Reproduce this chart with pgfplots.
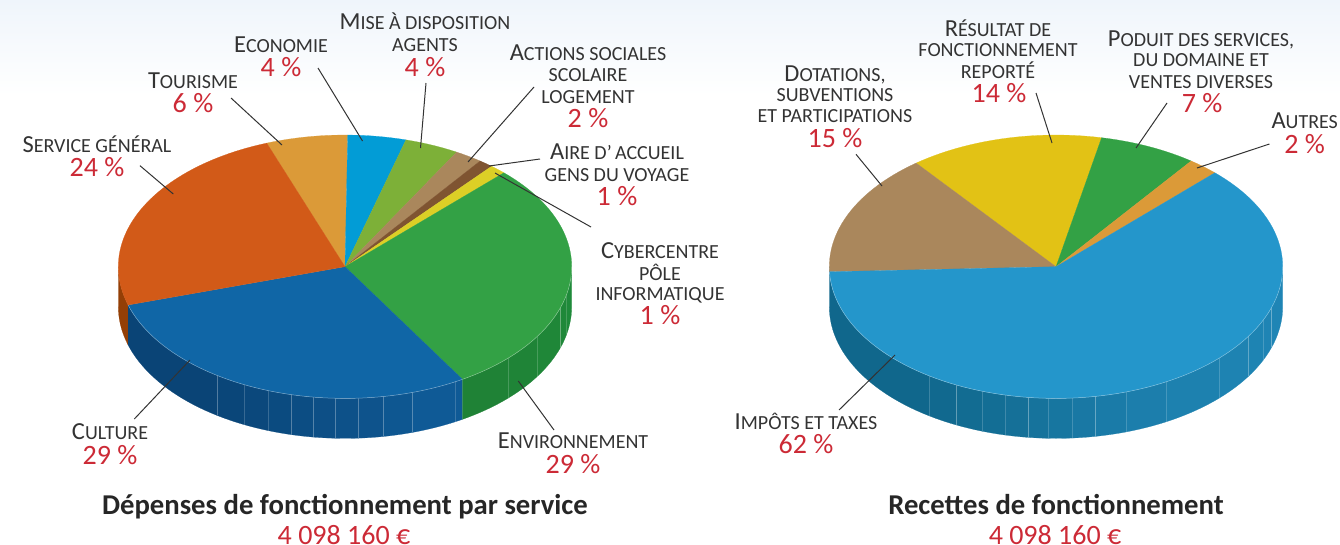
\documentclass[border=0pt]{standalone}
\usepackage{pgfplots}
\pgfplotsset{compat=1.18}
\usepackage{fontspec}
\setmainfont{Carlito}
\definecolor{txt}{HTML}{333333}
\definecolor{rouge}{HTML}{CC2A36}
\definecolor{fond}{HTML}{EFF5FB}
\definecolor{cTour}{HTML}{DB9A38}
\definecolor{cEco}{HTML}{029CD6}
\definecolor{cMise}{HTML}{7DB038}
\definecolor{cAct}{HTML}{AA875C}
\definecolor{cAire}{HTML}{7F5431}
\definecolor{cCyb}{HTML}{DCCF26}
\definecolor{cEnv}{HTML}{33A145}
\definecolor{cCul}{HTML}{1066A6}
\definecolor{cSer}{HTML}{D25A18}
\definecolor{cImp}{HTML}{2496CB}
\definecolor{cRes}{HTML}{E2C215}
\definecolor{sSer}{HTML}{943F06}
\definecolor{sCulA}{HTML}{0A4476}
\definecolor{sCulB}{HTML}{0F5A96}
\definecolor{sEnvA}{HTML}{1F8236}
\definecolor{sEnvB}{HTML}{1F8A3A}
\definecolor{sImpA}{HTML}{10678C}
\definecolor{sImpB}{HTML}{1F85B5}
% pie geometry, pixels of the reference
\newcommand\rx{226.7}\newcommand\ry{131.7}\newcommand\dep{40}
\newcommand\addarc[5]{%
  \pgfmathtruncatemacro\nsteps{max(1,ceil(abs(#4-#3)/2))}%
  \foreach \k in {0,...,\nsteps}{%
    \pgfmathsetmacro\tval{#3+(#4-#3)/\nsteps*\k}%
    \pgfmathsetmacro\xx{#1+\rx*cos(\tval)}%
    \pgfmathsetmacro\yy{#2-\ry*sin(\tval)+#5}%
    \xdef\pts{\pts (\xx,\yy)}%
  }}
\newcommand\slice[5]{%
  \gdef\pts{(#1,#2) }\addarc{#1}{#2}{#3}{#4}{0}%
  \edef\cmd{\noexpand\addplot[fill=#5,draw=#5,line width=0.2pt] coordinates {\pts (#1,#2)};}\cmd}
\newcommand\facet[5]{%
  \gdef\pts{}\addarc{#1}{#2}{#3}{#4}{0}\addarc{#1}{#2}{#4}{#3}{\dep}%
  \edef\cmd{\noexpand\addplot[fill=#5,draw=#5,line width=0.2pt] coordinates {\pts};}\cmd}
\newcommand\fline[3]{%
  \gdef\pts{}\addarc{#1}{#2}{#3}{#3}{0}\addarc{#1}{#2}{#3}{#3}{\dep}%
  \edef\cmd{\noexpand\addplot[draw=white,draw opacity=0.18,line width=0.6pt] coordinates {\pts};}\cmd}
\newcommand\rim[4]{%
  \gdef\pts{}\addarc{#1}{#2}{#3}{#4}{0}%
  \edef\cmd{\noexpand\addplot[draw=white,draw opacity=0.4,line width=0.5pt] coordinates {\pts};}\cmd}
\newcommand\lead[4]{\addplot[draw=txt,line width=1pt] coordinates {(#1,#2) (#3,#4)};}
% text
\newcommand\C[1]{{\fontsize{24.5}{24.5}\selectfont #1}}
\newcommand\lab[3]{\node[anchor=base,yshift=-1pt,text=txt,inner sep=0pt,font=\fontsize{20}{20}\selectfont] at (axis cs:#1,#2) {#3};}
\newcommand\val[3]{\node[anchor=base,yshift=-1.5pt,text=rouge,inner sep=0pt,font=\fontsize{28}{28}\selectfont] at (axis cs:#1,#2) {#3};}
\newcommand\ttl[3]{\node[anchor=base,yshift=-1.5pt,text=black!85,inner sep=0pt,font=\fontsize{28.7}{28.7}\selectfont\bfseries] at (axis cs:#1,#2) {#3};}
\begin{document}
\begin{tikzpicture}
\begin{axis}[width=1340pt,height=549pt,scale only axis,axis lines=none,
  xmin=0,xmax=1340,ymin=0,ymax=549,y dir=reverse,clip=false,
  xtick=\empty,ytick=\empty]
\fill[top color=fond,bottom color=white] (axis cs:0,0) rectangle (axis cs:1340,95);
% ---- left pie, side
\facet{345}{266.7}{180}{196.9}{sSer}
\foreach \a/\b/\m in {196.9/235.7/100,235.7/243.6/90,243.6/250.2/80,250.2/256.4/70,256.4/262/60,262/267.6/50,267.6/273.4/40,273.4/279.8/30,279.8/287.3/15,287.3/301.2/0}{%
  \facet{345}{266.7}{\a}{\b}{sCulA!\m!sCulB}}
\foreach \a/\b/\m in {301.2/316/100,316/327.8/70,327.8/341.8/40,341.8/348/20,348/360/0}{%
  \facet{345}{266.7}{\a}{\b}{sEnvA!\m!sEnvB}}
\foreach \t in {235.7,243.6,250.2,256.4,262,267.6,273.4,279.8,287.3,299,316,327.8,341.8,348}{\fline{345}{266.7}{\t}}
% ---- left pie, top
\slice{345}{266.7}{89.3}{110.2}{cTour}
\slice{345}{266.7}{74.4}{89.3}{cEco}
\slice{345}{266.7}{60.5}{74.4}{cMise}
\slice{345}{266.7}{53.4}{60.5}{cAct}
\slice{345}{266.7}{49.7}{53.4}{cAire}
\slice{345}{266.7}{45.5}{49.7}{cCyb}
\slice{345}{266.7}{-58.8}{45.5}{cEnv}
\slice{345}{266.7}{196.9}{301.2}{cCul}
\slice{345}{266.7}{110.2}{196.9}{cSer}
\rim{345}{266.7}{196.9}{360}
% ---- right pie, side
\foreach \a/\b/\m in {180/236/100,236/244/92,244/251/85,251/257/78,257/263/70,263/268/60,268/274/50,274/280/42,280/288/32,288/299/22,299/316/14,316/328/8,328/336/4,336/342/2,342/360/0}{%
  \facet{1056}{266.7}{\a}{\b}{sImpA!\m!sImpB}}
\foreach \t in {236,244,251,257,263,268,274,280,288,299,316,328,336,342}{\fline{1056}{266.7}{\t}}
% ---- right pie, top
\slice{1056}{266.7}{78.4}{128.1}{cRes}
\slice{1056}{266.7}{53.4}{78.4}{cEnv}
\slice{1056}{266.7}{45.5}{53.4}{cTour}
\slice{1056}{266.7}{128.1}{182.2}{cAct}
\slice{1056}{266.7}{182.2}{405.5}{cImp}
\rim{1056}{266.7}{182.2}{360}
% ---- leader lines
\lead{140}{165.7}{173.3}{194}
\lead{231}{98}{282}{145}
\lead{318}{68}{362.5}{141}
\lead{426}{83}{420.5}{148}
\lead{534}{87}{468}{162}
\lead{540}{159}{489}{166}
\lead{495}{173}{591}{227}
\lead{518.3}{381}{554}{430}
\lead{190}{360}{134.3}{419}
\lead{856}{154.3}{882}{186}
\lead{1036}{93}{1052}{143}
\lead{1167}{103}{1136}{148}
\lead{1269.4}{144}{1197}{168}
\lead{895}{355}{839}{410}
% ---- left labels
\lab{97}{151}{\C{S}ERVICE GÉNÉRAL}\val{97}{175}{24 \%}
\lab{193}{87}{\C{T}OURISME}\val{193}{111}{6 \%}
\lab{281}{51}{\C{E}CONOMIE}\val{281}{75}{4 \%}
\lab{425}{28.5}{\C{M}ISE À DISPOSITION}\lab{425}{50}{AGENTS}\val{425}{75}{4 \%}
\lab{588}{59}{\C{A}CTIONS SOCIALES}\lab{588}{80}{SCOLAIRE}\lab{588}{102}{LOGEMENT}\val{588}{125.7}{2 \%}
\lab{617}{158}{\C{A}IRE D’\,ACCUEIL}\lab{617}{180}{GENS DU VOYAGE}\val{617}{204}{1 \%}
\lab{660}{257}{\C{C}YBERCENTRE}\lab{660}{279}{PÔLE}\lab{660}{299}{INFORMATIQUE}\val{660}{323}{1 \%}
\lab{573}{447}{\C{E}NVIRONNEMENT}\val{573}{471.7}{29 \%}
\lab{110}{438}{\C{C}ULTURE}\val{110}{462.7}{29 \%}
\ttl{345}{513}{Dépenses de fonctionnement par service}
\val{344}{543}{4 098 160 €}
% ---- right labels
\lab{835}{80}{\C{D}OTATIONS,}\lab{835}{100.7}{SUBVENTIONS}\lab{835}{121.7}{ET PARTICIPATIONS}\val{835}{145.7}{15 \%}
\lab{998}{35}{\C{R}ÉSULTAT DE}\lab{998}{55.7}{FONCTIONNEMENT}\lab{998}{77}{REPORTÉ}\val{999}{101}{14 \%}
\lab{1201}{45}{\C{P}ODUIT DES SERVICES,}\lab{1201}{65.7}{DU DOMAINE ET}\lab{1201}{87}{VENTES DIVERSES}\val{1202}{111}{7 \%}
\lab{1304.7}{127.7}{\C{A}UTRES}\val{1304.7}{151.7}{2 \%}
\lab{806}{428}{\C{I}MPÔTS ET TAXES}\val{806}{452}{62 \%}
\ttl{1056}{513}{Recettes de fonctionnement}
\val{1055}{543}{4 098 160 €}
\end{axis}
\end{tikzpicture}
\end{document}
